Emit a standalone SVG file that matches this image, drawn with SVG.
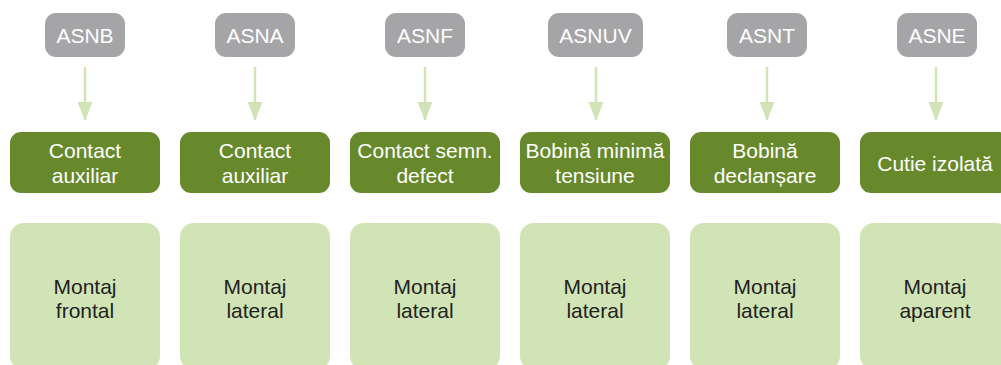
<svg xmlns="http://www.w3.org/2000/svg" width="1001" height="365" viewBox="0 0 1001 365">
<style>
.g{fill:#a5a5a8}
.d{fill:#67892c}
.l{fill:#d1e4b5}
text{font-family:"Liberation Sans",Arial,sans-serif;font-size:21px;text-anchor:middle}
.w{fill:#ffffff}
.k{fill:#222222}
.c{stroke:#d1e4b5;stroke-width:2.5;fill:none}
</style>
<defs>
<marker id="ah" markerUnits="userSpaceOnUse" markerWidth="20" markerHeight="16" refX="18" refY="7.5" orient="auto">
<path d="M0,0 L19,7.5 L0,15 Z" fill="#d1e4b5"/>
</marker>
</defs>
<g id="connectors">
<line class="c" x1="85" y1="67" x2="85" y2="120" marker-end="url(#ah)"/>
<line class="c" x1="255" y1="67" x2="255" y2="120" marker-end="url(#ah)"/>
<line class="c" x1="425" y1="67" x2="425" y2="120" marker-end="url(#ah)"/>
<line class="c" x1="596" y1="67" x2="596" y2="120" marker-end="url(#ah)"/>
<line class="c" x1="767" y1="67" x2="767" y2="120" marker-end="url(#ah)"/>
<line class="c" x1="936" y1="67" x2="936" y2="120" marker-end="url(#ah)"/>
</g>
<g id="asnb"><rect class="g" x="45" y="13" width="80" height="44" rx="11"/><text class="w" x="85" y="43">ASNB</text></g>
<g id="asna"><rect class="g" x="215" y="13" width="80" height="44" rx="11"/><text class="w" x="255" y="43">ASNA</text></g>
<g id="asnf"><rect class="g" x="385" y="13" width="80" height="44" rx="11"/><text class="w" x="425" y="43">ASNF</text></g>
<g id="asnuv"><rect class="g" x="548" y="13" width="95" height="44" rx="11"/><text class="w" x="595.5" y="43">ASNUV</text></g>
<g id="asnt"><rect class="g" x="727" y="13" width="80" height="44" rx="11"/><text class="w" x="767" y="43">ASNT</text></g>
<g id="asne"><rect class="g" x="897" y="13" width="80" height="44" rx="11"/><text class="w" x="937" y="43">ASNE</text></g>

<g id="c1"><rect class="d" x="10" y="132" width="150" height="61" rx="11"/><text class="w" x="85" y="158">Contact</text><text class="w" x="85" y="183">auxiliar</text></g>
<g id="c2"><rect class="d" x="180" y="132" width="150" height="61" rx="11"/><text class="w" x="255" y="158">Contact</text><text class="w" x="255" y="183">auxiliar</text></g>
<g id="c3"><rect class="d" x="350" y="132" width="150" height="61" rx="11"/><text class="w" x="425" y="158">Contact semn.</text><text class="w" x="425" y="183">defect</text></g>
<g id="c4"><rect class="d" x="520" y="132" width="150" height="61" rx="11"/><text class="w" x="595" y="158" font-size="20">Bobină minimă</text><text class="w" x="595" y="183">tensiune</text></g>
<g id="c5"><rect class="d" x="690" y="132" width="150" height="61" rx="11"/><text class="w" x="765" y="158">Bobină</text><text class="w" x="765" y="183">declanșare</text></g>
<g id="c6"><rect class="d" x="860" y="132" width="150" height="61" rx="11"/><text class="w" x="935" y="171">Cutie izolată</text></g>

<g id="m1"><rect class="l" x="10" y="223" width="150" height="147" rx="14"/><text class="k" x="85" y="294">Montaj</text><text class="k" x="85" y="318">frontal</text></g>
<g id="m2"><rect class="l" x="180" y="223" width="150" height="147" rx="14"/><text class="k" x="255" y="294">Montaj</text><text class="k" x="255" y="318">lateral</text></g>
<g id="m3"><rect class="l" x="350" y="223" width="150" height="147" rx="14"/><text class="k" x="425" y="294">Montaj</text><text class="k" x="425" y="318">lateral</text></g>
<g id="m4"><rect class="l" x="520" y="223" width="150" height="147" rx="14"/><text class="k" x="595" y="294">Montaj</text><text class="k" x="595" y="318">lateral</text></g>
<g id="m5"><rect class="l" x="690" y="223" width="150" height="147" rx="14"/><text class="k" x="765" y="294">Montaj</text><text class="k" x="765" y="318">lateral</text></g>
<g id="m6"><rect class="l" x="860" y="223" width="150" height="147" rx="14"/><text class="k" x="935" y="294">Montaj</text><text class="k" x="935" y="318">aparent</text></g>
</svg>
